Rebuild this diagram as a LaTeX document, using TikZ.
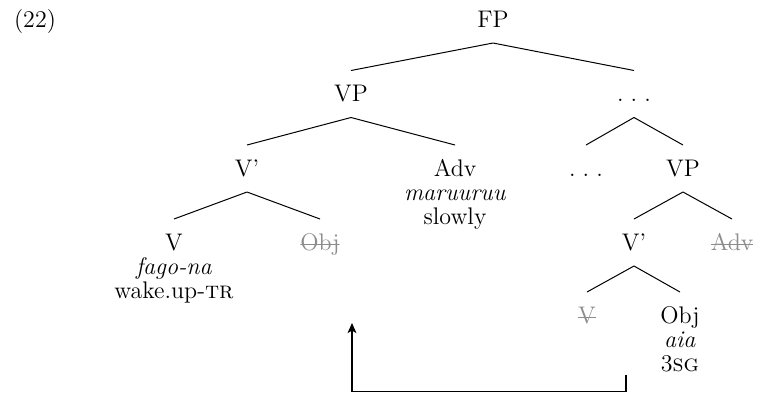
\documentclass[tikz,border=0pt]{standalone}
\usepackage{fontspec}
\usetikzlibrary{positioning, arrows.meta}
\definecolor{copygray}{gray}{0.55}
\newcommand{\spaceddots}{.\kern3.6pt.\kern3.6pt.}
\tikzset{
cat/.style={inner sep=0pt, text height=9.5pt, text depth=2pt, outer ysep=6pt, anchor=base}, % tree labels, edges meet them at north/south
gloss/.style={inner sep=0pt, text height=9.5pt, text depth=2pt, anchor=base}, % lines set under a word
copy/.style={cat, text=copygray, % struck-out lower copies
  path picture={\draw[copygray, line width=0.5pt]
    ([yshift=4.6pt]path picture bounding box.south west) -- ([yshift=4.6pt]path picture bounding box.south east);}},
branch/.style={line width=0.5pt}, % the tree edges
move/.style={line width=0.8pt, -{Stealth[length=5pt,width=4.4pt,inset=1.2pt]}}, % the movement arrow
}

\begin{document}
\begin{tikzpicture}[x=0.5pt, y=-0.5pt, font=\fontsize{12}{14}\selectfont]
    \useasboundingbox (0,0) rectangle (762,393);

    \node[gloss] (exno) at (35,27) {(22)};
    \node[cat] (FP) at (493,27) {FP};
    \node[cat] (VP) at (351,101.5) {VP};
    \node[cat] (dotsA) at (634,101.5) {\spaceddots};
    \node[cat] (Vbar) at (247,176) {V'};
    \node[cat] (Adv) at (455,176) {Adv};
    \node[gloss] (advform) at ([yshift=-12pt]Adv.base) {\textit{maruuruu}};
    \node[gloss, below=0.5pt of advform] (advgloss) {slowly};
    \node[cat] (dotsB) at (586,176) {\spaceddots};
    \node[cat] (VPlow) at (683,176) {VP};
    \node[cat] (V) at (174,250) {V};
    \node[gloss] (vform) at ([yshift=-12pt]V.base) {\textit{fago-na}};
    \node[gloss, below=0.5pt of vform] (vgloss) {wake.up-\textsc{tr}};
    \node[copy] (objcopy) at (320,250) {Obj};
    \node[cat] (Vbarlow) at (634,250) {V'};
    \node[copy] (advcopy) at (732,250) {Adv};
    \node[copy] (vcopy) at (587,323) {V};
    \node[cat] (Obj) at (680,323) {Obj};
    \node[gloss] (objform) at ([yshift=-12pt]Obj.base) {\textit{aia}};
    \node[gloss, below=0.5pt of objform] (objgloss) {3\textsc{sg}};

  \draw[branch] (FP.south) -- (VP.north)
        (FP.south) -- (dotsA.north)
        (VP.south) -- (Vbar.north)
        (VP.south) -- (Adv.north)
        (dotsA.south) -- (dotsB.north)
        (dotsA.south) -- (VPlow.north)
        (Vbar.south) -- (V.north)
        (Vbar.south) -- (objcopy.north)
        (VPlow.south) -- (Vbarlow.north)
        (VPlow.south) -- (advcopy.north)
        (Vbarlow.south) -- (vcopy.north)
        (Vbarlow.south) -- (Obj.north);

    \coordinate (launch) at (626,375);
    \coordinate (land) at (352,323);
  \draw[move] (launch) -- ++(0,16.5) -| (land);

\end{tikzpicture}
\end{document}
